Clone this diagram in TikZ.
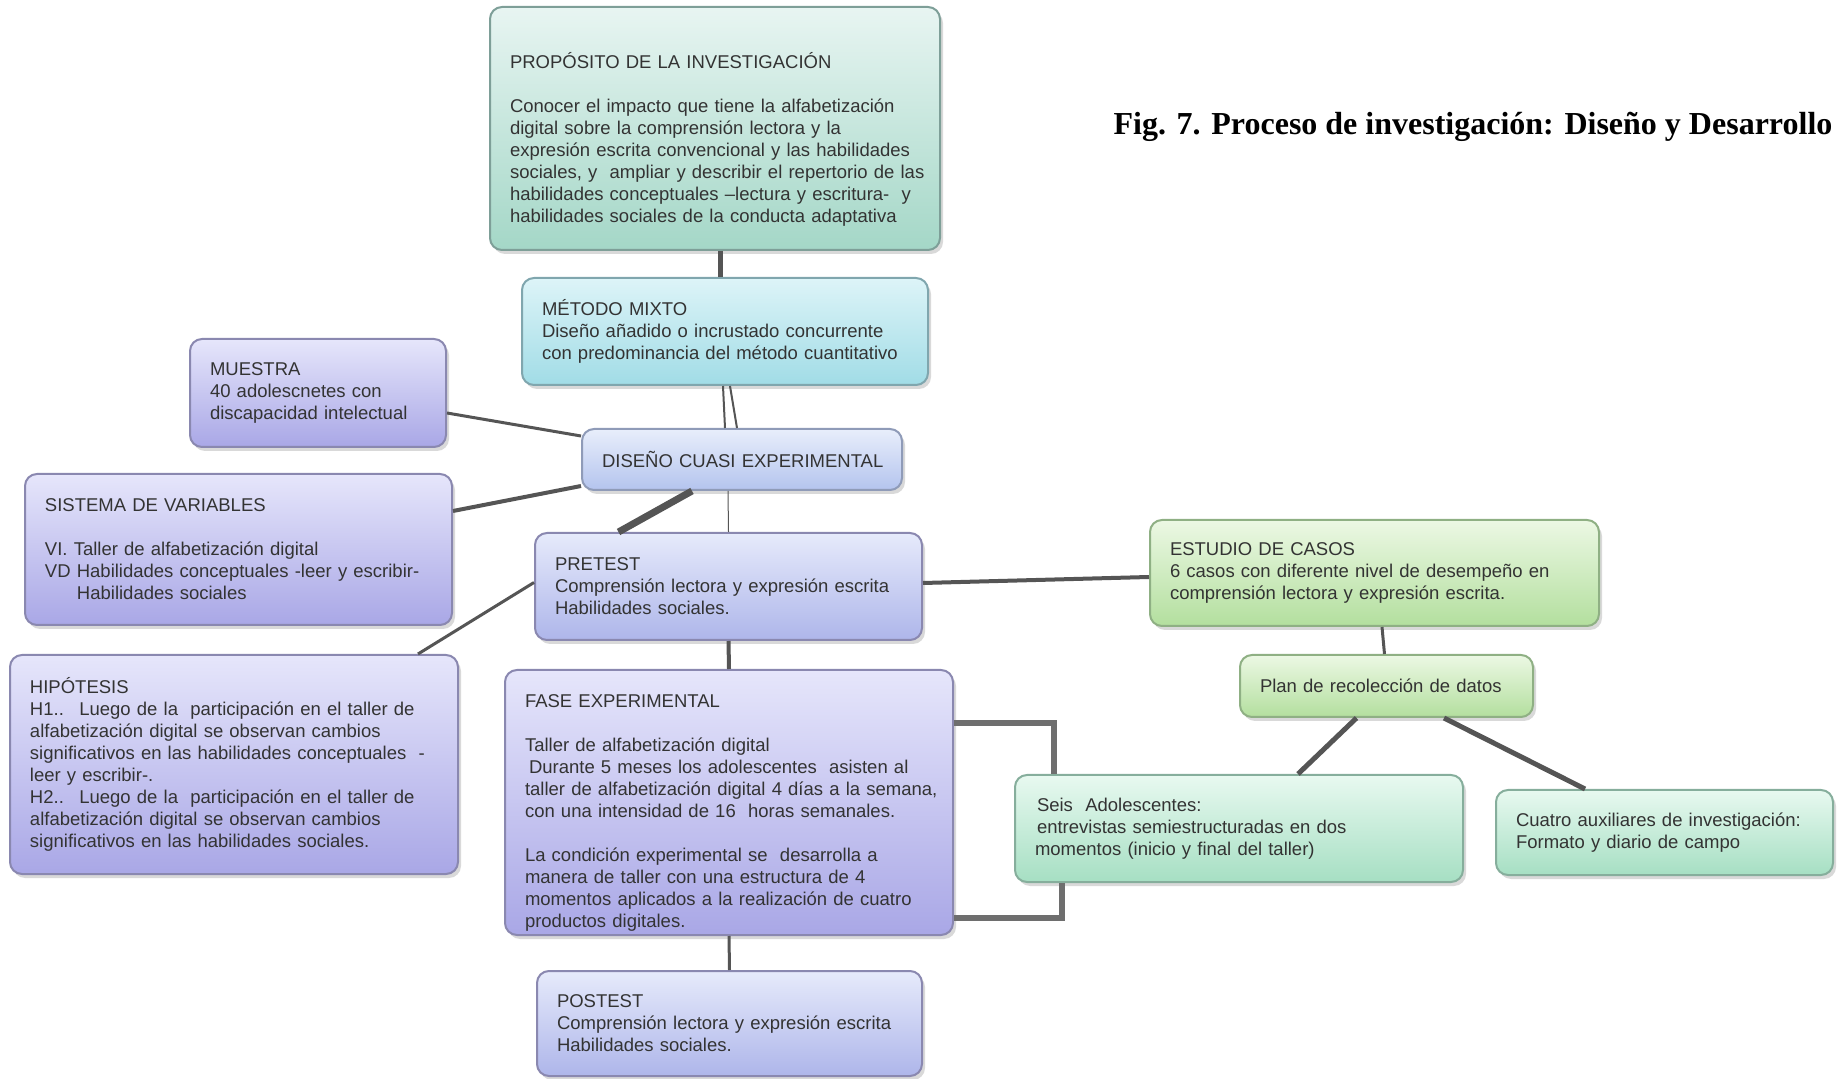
\documentclass[tikz,border=0pt]{standalone}
\usepackage{fontspec}
\setmainfont{Liberation Sans}
\newfontfamily\titlefont{Liberation Serif}
\usetikzlibrary{shadows}

% colours of the boxes
\definecolor{txtgray}{HTML}{333333}
\definecolor{linkgray}{HTML}{555555}
\definecolor{tealtop}{HTML}{E8F5F2}\definecolor{tealbot}{HTML}{A4D7C7}\definecolor{tealline}{HTML}{7E9F98}
\definecolor{cyantop}{HTML}{DDF4F8}\definecolor{cyanbot}{HTML}{A1DCE6}\definecolor{cyanline}{HTML}{80A6AE}
\definecolor{bluetop}{HTML}{E8EEFB}\definecolor{bluebot}{HTML}{B4C4EE}\definecolor{blueline}{HTML}{8F9BB8}
\definecolor{liltop}{HTML}{E6E6FB}\definecolor{lilbot}{HTML}{A9A7E6}\definecolor{lilline}{HTML}{8A88B0}
\definecolor{pretop}{HTML}{E6EAFB}\definecolor{prebot}{HTML}{AEB6EA}
\definecolor{greentop}{HTML}{ECF8E4}\definecolor{greenbot}{HTML}{B3DF9E}\definecolor{greenline}{HTML}{8FB084}
\definecolor{minttop}{HTML}{E8F9F0}\definecolor{mintbot}{HTML}{A6DFC3}\definecolor{mintline}{HTML}{86AE9C}

\tikzset{
  box/.style={rounded corners=6pt, line width=1pt, align=left, inner xsep=10pt, inner ysep=0pt,
    text=txtgray, font=\fontsize{9.25}{11}\selectfont,
    execute at begin node={\rightskip=0pt plus 1fil minus 100pt},
    drop shadow={shadow xshift=1.5pt, shadow yshift=-2pt, opacity=0.3}},
  tealbox/.style={box, draw=tealline, top color=tealtop, bottom color=tealbot},
  cyanbox/.style={box, draw=cyanline, top color=cyantop, bottom color=cyanbot},
  bluebox/.style={box, draw=blueline, top color=bluetop, bottom color=bluebot},
  lilacbox/.style={box, draw=lilline, top color=liltop, bottom color=lilbot},
  testbox/.style={box, draw=lilline, top color=pretop, bottom color=prebot},
  greenbox/.style={box, draw=greenline, top color=greentop, bottom color=greenbot},
  mintbox/.style={box, draw=mintline, top color=minttop, bottom color=mintbot},
  link/.style={draw=linkgray, line width=#1},
  link/.default=1.5pt
}

\begin{document}
\begin{tikzpicture}[x=0.5pt, y=-0.5pt]
  \useasboundingbox (0,0) rectangle (1838,1079);

  % central column
  \node[tealbox, text width=205pt, minimum height=121.5pt] (prop) at (715,128.5)
    {\rule{0pt}{18.8pt}PROPÓSITO DE LA INVESTIGACIÓN\\[11pt]
     Conocer el impacto que tiene la alfabetización\\
     digital sobre la comprensión lectora y la\\
     expresión escrita convencional y las habilidades\\
     sociales, y~ ampliar y describir el repertorio de las\\
     habilidades conceptuales –lectura y escritura-~ y\\
     habilidades sociales de la conducta adaptativa};

  \node[cyanbox, text width=183pt, minimum height=53.5pt] (metodo) at (725,331.5)
    {MÉTODO MIXTO\\
     Diseño añadido o incrustado concurrente\\
     con predominancia del método cuantitativo};

  \node[bluebox, text width=140pt, minimum height=30.5pt] (diseno) at (742,459.5)
    {DISEÑO CUASI EXPERIMENTAL};

  \node[testbox, text width=173.5pt, minimum height=53.5pt] (pretest) at (728.5,586.5)
    {PRETEST\\
     Comprensión lectora y expresión escrita\\
     Habilidades sociales.};

  \node[lilacbox, text width=204pt, minimum height=132.5pt] (fase) at (729,802.5)
    {\rule{0pt}{17.2pt}FASE EXPERIMENTAL\\[11pt]
     Taller de alfabetización digital\\
     \hspace{2pt}Durante 5 meses los adolescentes~ asisten al\\
     taller de alfabetización digital 4 días a la semana,\\
     con una intensidad de 16~ horas semanales.\\[11pt]
     La condición experimental se~ desarrolla a\\
     manera de taller con una estructura de 4\\
     momentos aplicados a la realización de cuatro\\
     productos digitales.};

  \node[testbox, text width=172.5pt, minimum height=52.5pt] (postest) at (729.5,1023.5)
    {POSTEST\\
     Comprensión lectora y expresión escrita\\
     Habilidades sociales.};

  % left column
  \node[lilacbox, text width=108pt, minimum height=54pt] (muestra) at (318,393)
    {MUESTRA\\
     40 adolescnetes con\\
     discapacidad intelectual};

  \node[lilacbox, text width=193.5pt, minimum height=75.5pt] (sistema) at (238.5,549.5)
    {SISTEMA DE VARIABLES\\[11pt]
     VI. Taller de alfabetización digital\\
     VD Habilidades conceptuales -leer y escribir-\\
     \hspace{16pt}Habilidades sociales};

  \node[lilacbox, text width=204pt, minimum height=109.5pt] (hipotesis) at (234,764.5)
    {HIPÓTESIS\\
     H1..~ Luego de la~ participación en el taller de\\
     alfabetización digital se observan cambios\\
     significativos en las habilidades conceptuales~ -\\
     leer y escribir-.\\
     H2..~ Luego de la~ participación en el taller de\\
     alfabetización digital se observan cambios\\
     significativos en las habilidades sociales.};

  % right branch
  \node[greenbox, text width=204.5pt, minimum height=53pt] (estudio) at (1374.5,573)
    {ESTUDIO DE CASOS\\
     6 casos con diferente nivel de desempeño en\\
     comprensión lectora y expresión escrita.};

  \node[greenbox, text width=126.5pt, minimum height=31pt] (plan) at (1386.5,686)
    {Plan de recolección de datos};

  \node[mintbox, text width=204pt, minimum height=53.5pt] (seis) at (1239,828.5)
    {\hspace{1pt}Seis~ Adolescentes:\\
     \hspace{1pt}entrevistas semiestructuradas en dos\\
     momentos (inicio y final del taller)};

  \node[mintbox, text width=148.5pt, minimum height=42.5pt] (cuatro) at (1664.5,832.5)
    {Cuatro auxiliares de investigación:\\
     Formato y diario de campo};

  % caption
  \node[font=\titlefont\bfseries\fontsize{16}{19}\selectfont] (caption) at (1473,127)
    {Fig. 7. Proceso de investigación: Diseño y Desarrollo};

  % connectors
  \draw[link=2.5pt] ([xshift=2.5pt]prop.south) -- ([xshift=-2.5pt]metodo.north);
  \draw[link=1pt] ([xshift=-1pt]metodo.south) -- ([xshift=-8.5pt]diseno.north);
  \draw[link=1pt] ([xshift=2.5pt]metodo.south) -- ([xshift=-2.5pt]diseno.north);
  \draw[link] ([yshift=-10pt]muestra.east) -- ([yshift=11.75pt]diseno.west);
  \draw[link=2pt] ([yshift=19.25pt]sistema.east) -- ([yshift=-13.25pt]diseno.west);
  \draw[link=3.5pt] ([xshift=-25pt]diseno.south) -- ([xshift=-55pt]pretest.north);
  \draw[link=0.5pt] ([xshift=-7pt]diseno.south) -- (pretest.north);
  \draw[link] ([xshift=92pt]hipotesis.north) -- ([yshift=2pt]pretest.west);
  \draw[link=2pt] ([yshift=1.75pt]pretest.east) -- ([yshift=-2pt]estudio.west);
  \draw[link=2pt] (pretest.south) -- (fase.north);
  \draw[link] (fase.south) -- (postest.north);
  \draw[link] ([xshift=3.75pt]estudio.south) -- ([xshift=-1pt]plan.north);
  \draw[link=2.5pt] ([xshift=-15pt]plan.south) -- ([xshift=29.5pt]seis.north);
  \draw[link=2.5pt] ([xshift=28.75pt]plan.south) -- ([xshift=-39.75pt]cuatro.north);
  \draw[link=3pt, draw=linkgray!85] ([yshift=39.75pt]fase.east) -| ([xshift=-92.5pt]seis.north);
  \draw[link=3pt, draw=linkgray!85] ([yshift=-57.75pt]fase.east) -| ([xshift=-88.5pt]seis.south);
\end{tikzpicture}
\end{document}
